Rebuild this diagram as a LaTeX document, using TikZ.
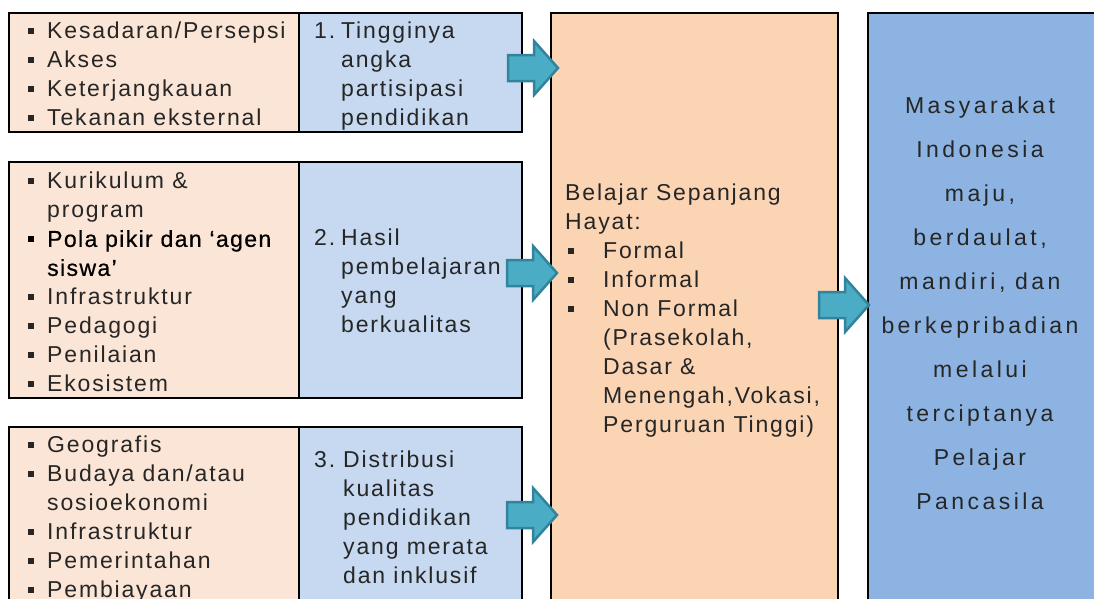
\documentclass[tikz,border=0pt]{standalone}
\usepackage{fontspec}
\setmainfont{Liberation Sans}[LetterSpace=8]
\newfontfamily\widefont{Liberation Sans}[LetterSpace=15]
\newfontfamily\polafont{Liberation Sans}[LetterSpace=6,FakeBold=0.6]

\definecolor{peach}{HTML}{FBE5D6}
\definecolor{paleblue}{HTML}{C6D9F1}
\definecolor{orangebox}{HTML}{FBD4B4}
\definecolor{bluebox}{HTML}{8DB3E2}
\definecolor{arrowfill}{HTML}{4BACC6}
\definecolor{arrowline}{HTML}{31849B}
\definecolor{txtgray}{HTML}{262626}

\newcommand{\bul}{\makebox[19pt][l]{\rule[5pt]{6pt}{6pt}}}
\newcommand{\mbul}{\hspace*{3pt}\makebox[35pt][l]{\rule[5pt]{6pt}{6pt}}}

\tikzset{
  box/.style={draw, line width=1.5pt, rectangle, anchor=north west, inner sep=0pt},
  txt/.style={anchor=north west, inner sep=0pt, align=left, text=txtgray,
    font=\fontsize{23}{29}\selectfont},
  fatarrow/.pic={
    \draw[draw=arrowline, fill=arrowfill, line width=2.5pt, line join=miter]
      (0,0) -- (-24,-27) -- (-24,-13) -- (-50,-13) -- (-50,13) -- (-24,13) -- (-24,27) -- cycle;
  }
}

\begin{document}
\begin{tikzpicture}[x=1pt, y=-1pt]
  \useasboundingbox (0,0) rectangle (1094,598);
  \clip (0,0) rectangle (1094,598);

  \node[box, fill=peach, minimum width=290pt, minimum height=119pt] (faktor1) at (8,12) {};
  \node[box, fill=paleblue, minimum width=223pt, minimum height=119pt] (hasil1) at (298,12) {};
  \node[box, fill=peach, minimum width=290pt, minimum height=236pt] (faktor2) at (8,161) {};
  \node[box, fill=paleblue, minimum width=223pt, minimum height=236pt] (hasil2) at (298,161) {};
  \node[box, fill=peach, minimum width=290pt, minimum height=182pt] (faktor3) at (8,426) {};
  \node[box, fill=paleblue, minimum width=223pt, minimum height=182pt] (hasil3) at (298,426) {};
  \node[box, fill=orangebox, minimum width=287pt, minimum height=620pt] (belajar) at (550,12) {};
  \node[box, fill=bluebox, minimum width=250pt, minimum height=620pt] (tujuan) at (867,12) {};

  \node[txt] (faktor1txt) at (28,22) {\bul Kesadaran/Persepsi\\ \bul Akses\\ \bul Keterjangkauan\\ \bul Tekanan eksternal};
  \node[txt] (hasil1txt) at (314,22) {\makebox[27pt][l]{1.}Tingginya\\ \hspace*{27pt}angka\\ \hspace*{27pt}partisipasi\\ \hspace*{27pt}pendidikan};

  \node[txt] (faktor2txt) at (28,172) {\bul Kurikulum \&\\ \hspace*{19pt}program\\
    \color{black}\bul{\polafont Pola pikir dan ‘agen}\\ \color{black}\hspace*{19pt}{\polafont siswa’}\\
    \bul Infrastruktur\\ \bul Pedagogi\\ \bul Penilaian\\ \bul Ekosistem};
  \node[txt] (hasil2txt) at (314,229) {\makebox[27pt][l]{2.}Hasil\\ \hspace*{27pt}pembelajaran\\ \hspace*{27pt}yang\\ \hspace*{27pt}berkualitas};

  \node[txt] (faktor3txt) at (28,436) {\bul Geografis\\ \bul Budaya dan/atau\\ \hspace*{19pt}sosioekonomi\\
    \bul Infrastruktur\\ \bul Pemerintahan\\ \bul Pembiayaan};
  \node[txt] (hasil3txt) at (314,451) {\makebox[29pt][l]{3.}Distribusi\\ \hspace*{29pt}kualitas\\ \hspace*{29pt}pendidikan\\ \hspace*{29pt}yang merata\\ \hspace*{29pt}dan inklusif};

  \node[txt] (belajartxt) at (565,184) {Belajar Sepanjang\\ Hayat:\\ \mbul Formal\\ \mbul Informal\\ \mbul Non Formal\\
    \hspace*{38pt}(Prasekolah,\\ \hspace*{38pt}Dasar \&\\ \hspace*{38pt}Menengah,Vokasi,\\ \hspace*{38pt}Perguruan Tinggi)};

  \node[txt, anchor=north, align=center, font=\widefont\fontsize{23}{44}\selectfont] (tujuantxt) at (980,97)
    {Masyarakat\\ Indonesia\\ maju,\\ berdaulat,\\ mandiri, dan\\ berkepribadian\\ melalui\\ terciptanya\\ Pelajar\\ Pancasila};

  \coordinate (p1) at (558,68);
  \coordinate (p2) at (557,273);
  \coordinate (p3) at (557,515);
  \coordinate (p4) at (869,305);
  \pic at (p1) {fatarrow};
  \pic at (p2) {fatarrow};
  \pic at (p3) {fatarrow};
  \pic at (p4) {fatarrow};
\end{tikzpicture}
\end{document}
